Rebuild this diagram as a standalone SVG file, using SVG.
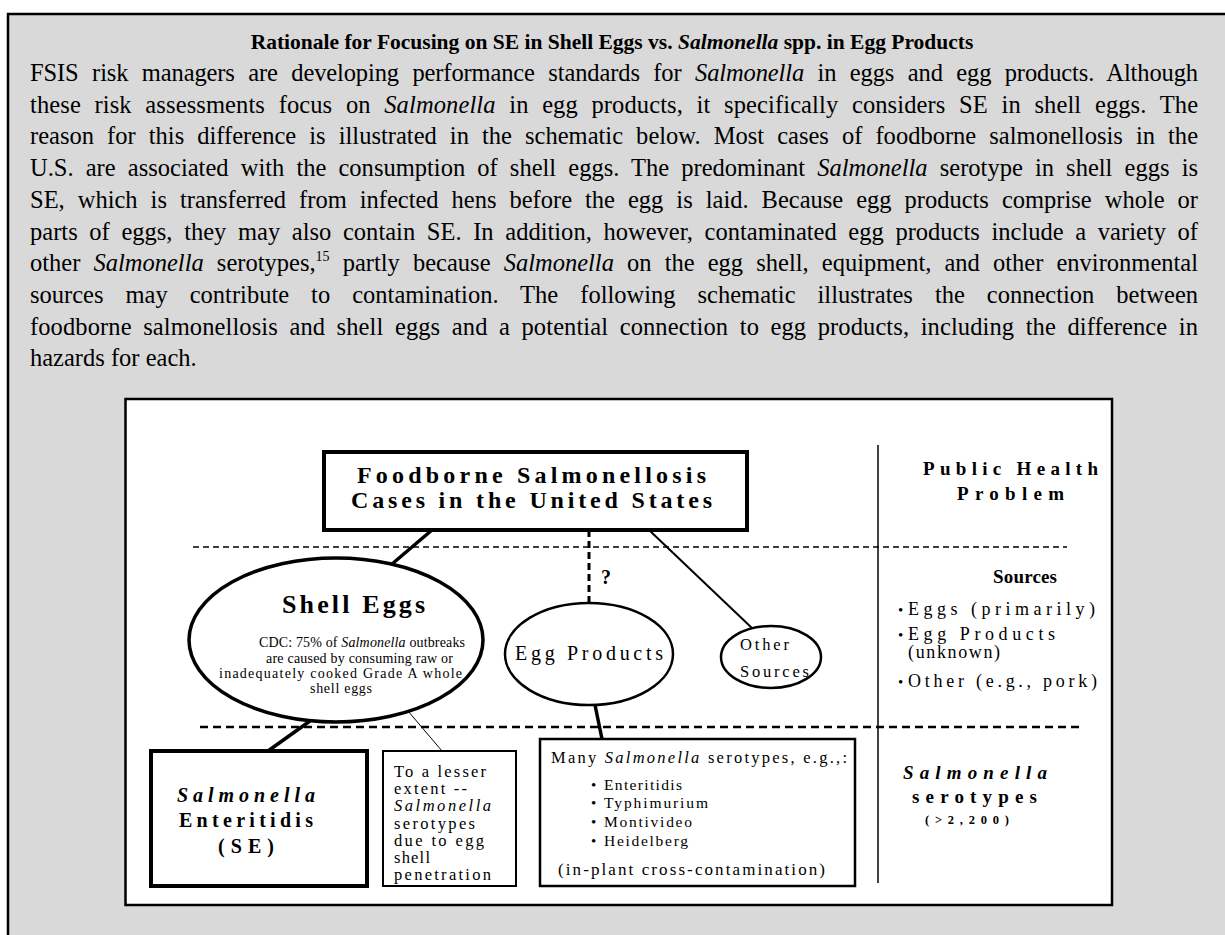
<svg xmlns="http://www.w3.org/2000/svg" width="1225" height="935" viewBox="0 0 1225 935">
<style>
text { font-family: "Liberation Serif", "Times New Roman", serif; fill: #000; }
.body { font-size: 24.5px; }
.it { font-style: italic; }
.b { font-weight: bold; }
.ln { stroke: #000; fill: none; }
.shape { fill: #fff; stroke: #000; }
</style>
<rect x="8" y="14" width="1230" height="940" fill="#d9d9d9" stroke="#000" stroke-width="2.5"/>
<g id="text-block">
<text class="b" x="612" y="49" font-size="21.5" text-anchor="middle">Rationale for Focusing on SE in Shell Eggs vs. <tspan class="it">Salmonella</tspan> spp. in Egg Products</text>
<text class="body" x="30" y="81" word-spacing="7.5" textLength="1168" lengthAdjust="spacing">FSIS risk managers are developing performance standards for <tspan class="it">Salmonella</tspan> in eggs and egg products. Although</text>
<text class="body" x="30" y="112.7" word-spacing="7.4" textLength="1168" lengthAdjust="spacing">these risk assessments focus on <tspan class="it">Salmonella</tspan> in egg products, it specifically considers SE in shell eggs. The</text>
<text class="body" x="30" y="144.4" word-spacing="6.9" textLength="1168" lengthAdjust="spacing">reason for this difference is illustrated in the schematic below. Most cases of foodborne salmonellosis in the</text>
<text class="body" x="30" y="176.1" word-spacing="6.0" textLength="1168" lengthAdjust="spacing">U.S. are associated with the consumption of shell eggs. The predominant <tspan class="it">Salmonella</tspan> serotype in shell eggs is</text>
<text class="body" x="30" y="207.8" word-spacing="6.9" textLength="1168" lengthAdjust="spacing">SE, which is transferred from infected hens before the egg is laid. Because egg products comprise whole or</text>
<text class="body" x="30" y="239.5" word-spacing="5.5" textLength="1168" lengthAdjust="spacing">parts of eggs, they may also contain SE. In addition, however, contaminated egg products include a variety of</text>
<text class="body" x="30" y="271.2" word-spacing="7.0" textLength="1168" lengthAdjust="spacing">other <tspan class="it">Salmonella</tspan> serotypes,<tspan font-size="14" dy="-10">15</tspan><tspan dy="10"> partly because </tspan><tspan class="it">Salmonella</tspan> on the egg shell, equipment, and other environmental</text>
<text class="body" x="30" y="302.9" word-spacing="15.9" textLength="1168" lengthAdjust="spacing">sources may contribute to contamination. The following schematic illustrates the connection between</text>
<text class="body" x="30" y="334.6" word-spacing="5.3" textLength="1168" lengthAdjust="spacing">foodborne salmonellosis and shell eggs and a potential connection to egg products, including the difference in</text>
<text class="body" x="30" y="366.3">hazards for each.</text>
</g>
<rect x="125.5" y="399" width="986.5" height="506" fill="#fff" stroke="#000" stroke-width="2.5"/>
<g id="guides">
<line class="ln" x1="878" y1="445" x2="878" y2="883" stroke="#333" stroke-width="1.5"/>
<line class="ln" x1="193" y1="547" x2="1067" y2="547" stroke-width="1.5" stroke-dasharray="6 4"/>
<line class="ln" x1="200" y1="727" x2="1084" y2="727" stroke-width="2.5" stroke-dasharray="8 5"/>
</g>
<g id="connectors">
<line class="ln" x1="432" y1="530" x2="392" y2="564" stroke-width="3.5"/>
<line class="ln" x1="589" y1="530" x2="589" y2="603" stroke-width="3" stroke-dasharray="7 4"/>
<line class="ln" x1="649" y1="530" x2="753" y2="629" stroke-width="2"/>
<line class="ln" x1="310" y1="721" x2="268" y2="751" stroke-width="3.5"/>
<line class="ln" x1="408" y1="711" x2="442" y2="751" stroke-width="1"/>
<line class="ln" x1="595" y1="705" x2="602" y2="739" stroke-width="3.5"/>
<text class="b" x="601" y="584" font-size="20">?</text>
</g>
<g id="node-foodborne">
<rect class="shape" x="324" y="452" width="423" height="78" stroke-width="4"/>
<text class="b" x="357" y="483" font-size="24" textLength="349" lengthAdjust="spacing">Foodborne Salmonellosis</text>
<text class="b" x="351" y="508" font-size="24" textLength="361" lengthAdjust="spacing">Cases in the United States</text>
</g>
<g id="node-shell-eggs">
<ellipse class="shape" cx="336" cy="640" rx="147" ry="82" stroke-width="3.5"/>
<text class="b" x="282" y="613" font-size="26" textLength="143" lengthAdjust="spacing">Shell Eggs</text>
<text x="259" y="647" font-size="14" textLength="206" lengthAdjust="spacing">CDC:  75% of <tspan class="it">Salmonella</tspan> outbreaks</text>
<text x="266" y="663" font-size="14" textLength="187" lengthAdjust="spacing">are caused by consuming raw or</text>
<text x="219" y="678" font-size="14" textLength="243" lengthAdjust="spacing">inadequately cooked Grade A whole</text>
<text x="310" y="693" font-size="14" textLength="62" lengthAdjust="spacing">shell eggs</text>
</g>
<g id="node-egg-products">
<ellipse class="shape" cx="589" cy="654" rx="84" ry="51" stroke-width="2.5"/>
<text x="515" y="660" font-size="20" textLength="148" lengthAdjust="spacing">Egg Products</text>
</g>
<g id="node-other-sources">
<ellipse class="shape" cx="771" cy="657" rx="50" ry="31" stroke-width="2.5"/>
<text x="740" y="650" font-size="16.5" textLength="49" lengthAdjust="spacing">Other</text>
<text x="740" y="677" font-size="16.5" textLength="69" lengthAdjust="spacing">Sources</text>
</g>
<g id="node-se">
<rect class="shape" x="151" y="751" width="216" height="135" stroke-width="4"/>
<text class="b it" x="177" y="802" font-size="20" textLength="138" lengthAdjust="spacing">Salmonella</text>
<text class="b" x="179" y="827" font-size="20" textLength="134" lengthAdjust="spacing">Enteritidis</text>
<text class="b" x="218" y="853" font-size="20" textLength="56" lengthAdjust="spacing">(SE)</text>
</g>
<g id="node-lesser">
<rect class="shape" x="383" y="751" width="133" height="135" stroke-width="2"/>
<text x="394" y="777" font-size="16.5" textLength="92" lengthAdjust="spacing">To a lesser</text>
<text x="394" y="794" font-size="16.5" textLength="73" lengthAdjust="spacing">extent --</text>
<text class="it" x="394" y="811" font-size="16.5" textLength="97" lengthAdjust="spacing">Salmonella</text>
<text x="394" y="829" font-size="16.5" textLength="81" lengthAdjust="spacing">serotypes</text>
<text x="394" y="846" font-size="16.5" textLength="90" lengthAdjust="spacing">due to egg</text>
<text x="394" y="863" font-size="16.5" textLength="36" lengthAdjust="spacing">shell</text>
<text x="394" y="880" font-size="16.5" textLength="97" lengthAdjust="spacing">penetration</text>
</g>
<g id="node-many">
<rect class="shape" x="540" y="739" width="315" height="147" stroke-width="2.5"/>
<text x="551" y="763" font-size="16.5" textLength="296" lengthAdjust="spacing">Many <tspan class="it">Salmonella</tspan> serotypes, e.g.,:</text>
<text x="591" y="790" font-size="15">•</text>
<text x="604" y="790" font-size="15.5" textLength="78" lengthAdjust="spacing">Enteritidis</text>
<text x="591" y="808" font-size="15">•</text>
<text x="604" y="808" font-size="15.5" textLength="104" lengthAdjust="spacing">Typhimurium</text>
<text x="591" y="827" font-size="15">•</text>
<text x="604" y="827" font-size="15.5" textLength="88" lengthAdjust="spacing">Montivideo</text>
<text x="591" y="846" font-size="15">•</text>
<text x="604" y="846" font-size="15.5" textLength="84" lengthAdjust="spacing">Heidelberg</text>
<text x="558" y="875" font-size="17" textLength="267" lengthAdjust="spacing">(in-plant cross-contamination)</text>
</g>
<g id="legend">
<text class="b" x="923" y="475" font-size="19" textLength="175" lengthAdjust="spacing">Public Health</text>
<text class="b" x="957" y="500" font-size="19" textLength="107" lengthAdjust="spacing">Problem</text>
<text class="b" x="993" y="583" font-size="19" textLength="64" lengthAdjust="spacing">Sources</text>
<text x="898" y="615" font-size="15">•</text>
<text x="908" y="615" font-size="18" textLength="187" lengthAdjust="spacing">Eggs (primarily)</text>
<text x="898" y="640" font-size="15">•</text>
<text x="908" y="640" font-size="18" textLength="147" lengthAdjust="spacing">Egg Products</text>
<text x="908" y="658" font-size="18" textLength="92" lengthAdjust="spacing">(unknown)</text>
<text x="898" y="687" font-size="15">•</text>
<text x="908" y="687" font-size="18" textLength="189" lengthAdjust="spacing">Other (e.g., pork)</text>
<text class="b it" x="903" y="779" font-size="19" textLength="144" lengthAdjust="spacing">Salmonella</text>
<text class="b" x="912" y="803" font-size="19" textLength="125" lengthAdjust="spacing">serotypes</text>
<text class="b" x="925" y="824" font-size="12.5" textLength="84" lengthAdjust="spacing">(&gt;2,200)</text>
</g>
</svg>
